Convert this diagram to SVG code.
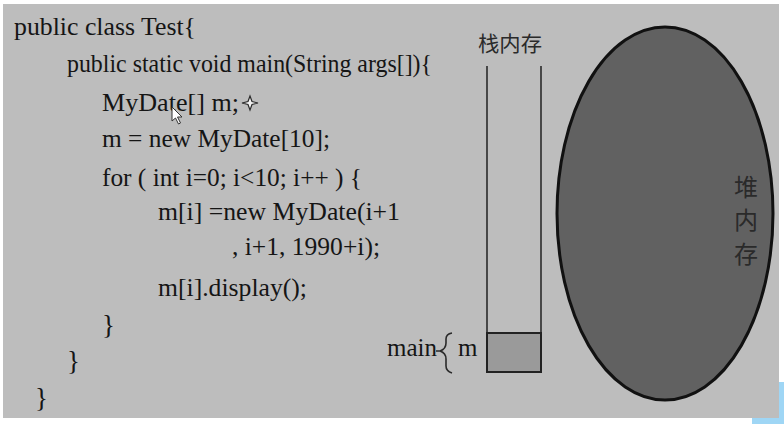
<svg xmlns="http://www.w3.org/2000/svg" width="784" height="424" viewBox="0 0 784 424">
<style>
.code{font-family:"Liberation Serif","Times New Roman",serif;font-size:25px;fill:#151515}
.br{font-family:"Liberation Serif","Times New Roman",serif;font-size:27px;fill:#151515}
.cjk{font-family:"Noto Sans CJK SC","Noto Sans",sans-serif;fill:#2a2a2a}
.ln{stroke:#2a2a2a;stroke-width:1.6;fill:none}
</style>
<rect x="0" y="0" width="784" height="424" fill="#ffffff"/>
<rect x="752" y="382" width="32" height="42" fill="#9fd6f5"/>
<rect x="3" y="4" width="776" height="414" fill="#bdbdbd"/>
<g id="code">
<text class="code" x="14" y="35" textLength="182" lengthAdjust="spacingAndGlyphs">public class Test{</text>
<text class="code" x="67" y="72" textLength="365" lengthAdjust="spacingAndGlyphs">public static void main(String args[]){</text>
<text class="code" x="102" y="111" textLength="137" lengthAdjust="spacingAndGlyphs">MyDate[] m;</text>
<text class="code" x="102" y="147" textLength="228" lengthAdjust="spacingAndGlyphs">m = new MyDate[10];</text>
<text class="code" x="102" y="186" textLength="260" lengthAdjust="spacingAndGlyphs">for ( int i=0; i&lt;10; i++ ) {</text>
<text class="code" x="158" y="220" textLength="242" lengthAdjust="spacingAndGlyphs">m[i] =new MyDate(i+1</text>
<text class="code" x="232" y="255" textLength="148" lengthAdjust="spacingAndGlyphs">, i+1, 1990+i);</text>
<text class="code" x="158" y="296" textLength="149" lengthAdjust="spacingAndGlyphs">m[i].display();</text>
<text class="br" x="102" y="334">}</text>
<text class="br" x="67" y="370">}</text>
<text class="br" x="35" y="407">}</text>
<path d="M250 96 L252 101.5 L258 103 L252 104.5 L250 110 L248 104.5 L242 103 L248 101.5 Z" fill="#f2f2f2" stroke="#2a2a2a" stroke-width="1.2"/>
<path d="M172 107 L172 121 L175.5 118 L178.5 124 L180.5 123 L177.5 117 L182 117 Z" fill="#ffffff" stroke="#333" stroke-width="1"/>
</g>
<g id="stack">
<text class="cjk" x="478" y="51" font-size="21" textLength="64" lengthAdjust="spacingAndGlyphs">栈内存</text>
<line class="ln" x1="487" y1="66" x2="487" y2="333"/>
<line class="ln" x1="541" y1="66" x2="541" y2="333"/>
<rect x="487" y="333" width="54" height="39" fill="#9a9a9a" stroke="#222" stroke-width="2"/>
</g>
<g id="main-label">
<text class="code" x="387" y="356" textLength="50" lengthAdjust="spacingAndGlyphs">main</text>
<text class="code" x="458" y="356">m</text>
</g>
<g id="heap">
<ellipse cx="665" cy="213.5" rx="108" ry="186.5" fill="#616161" stroke="#111" stroke-width="3"/>
<text class="cjk" x="746" y="196" font-size="24" text-anchor="middle">堆</text>
<text class="cjk" x="746" y="229" font-size="24" text-anchor="middle">内</text>
<text class="cjk" x="746" y="263" font-size="24" text-anchor="middle">存</text>
</g>
<g id="connectors">
<path class="ln" d="M436 351 L440 351 Q446 349 446 343 L446 339 Q446 334 452 333 M440 351 Q446 353 446 359 L446 366 Q446 371 452 373"/>
</g>
</svg>
